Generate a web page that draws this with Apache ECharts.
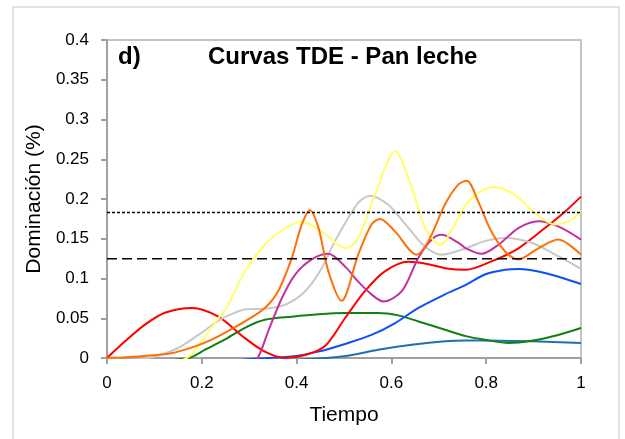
<!DOCTYPE html>
<html lang="es">
<head>
    <meta charset="UTF-8">
    <title>Curvas TDE - Pan leche</title>
    <script src="https://cdn.jsdelivr.net/npm/echarts@6/dist/echarts.min.js"></script>
    <style>
        body { margin: 0; padding: 0; background: #fff; }
        #chart { width: 625px; height: 439px; }
    </style>
</head>
<body>
    <div id="chart"></div>
    <script>
        // datos: [tiempo, dominacion]
        var rojo = [[0,0],[0.038,0.021],[0.08,0.042],[0.122,0.057],[0.179,0.063],[0.235,0.052],[0.291,0.025],[0.333,0.008],[0.375,0],[0.42,0.004],[0.46,0.015],[0.502,0.05],[0.544,0.084],[0.586,0.109],[0.636,0.121],[0.678,0.118],[0.713,0.113],[0.757,0.111],[0.811,0.1215],[0.868,0.138],[0.924,0.1635],[0.966,0.184],[1,0.203]];
        var naranja = [[0,0],[0.066,0.002],[0.136,0.006],[0.186,0.0146],[0.221,0.023],[0.253,0.033],[0.291,0.046],[0.333,0.063],[0.361,0.084],[0.39,0.126],[0.411,0.168],[0.428,0.186],[0.446,0.164],[0.467,0.109],[0.495,0.072],[0.53,0.13],[0.558,0.168],[0.576,0.175],[0.608,0.159],[0.653,0.13],[0.678,0.147],[0.713,0.193],[0.741,0.218],[0.759,0.223],[0.783,0.197],[0.811,0.159],[0.84,0.134],[0.868,0.124],[0.91,0.138],[0.952,0.149],[1,0.13]];
        var amarillo = [[0,0],[0.08,-0.012],[0.168,0],[0.207,0.027],[0.235,0.05],[0.253,0.064],[0.291,0.109],[0.333,0.1425],[0.376,0.1635],[0.411,0.171],[0.453,0.159],[0.504,0.138],[0.53,0.151],[0.565,0.205],[0.608,0.26],[0.643,0.214],[0.671,0.1635],[0.703,0.1425],[0.734,0.168],[0.757,0.193],[0.783,0.2075],[0.815,0.215],[0.861,0.205],[0.903,0.182],[0.945,0.168],[0.98,0.174],[1,0.185]];
        var gris = [[0,0],[0.05,-0.002],[0.101,0.002],[0.15,0.0126],[0.193,0.029],[0.228,0.044],[0.251,0.052],[0.291,0.061],[0.333,0.062],[0.376,0.067],[0.418,0.084],[0.453,0.113],[0.481,0.147],[0.53,0.195],[0.555,0.204],[0.593,0.193],[0.636,0.1635],[0.671,0.14],[0.706,0.13],[0.757,0.138],[0.797,0.147],[0.84,0.151],[0.896,0.145],[0.952,0.128],[1,0.112]];
        var magenta = [[0.26,-0.04],[0.316,-0.002],[0.34,0.0335],[0.369,0.0755],[0.397,0.105],[0.432,0.124],[0.467,0.131],[0.504,0.114],[0.53,0.096],[0.558,0.08],[0.583,0.071],[0.622,0.084],[0.657,0.126],[0.685,0.149],[0.706,0.155],[0.741,0.145],[0.757,0.138],[0.79,0.131],[0.826,0.1425],[0.868,0.1635],[0.91,0.172],[0.952,0.1655],[1,0.149]];
        var azul = [[0.22,-0.01],[0.291,-0.002],[0.39,0.002],[0.446,0.008],[0.504,0.018],[0.558,0.029],[0.608,0.044],[0.657,0.063],[0.713,0.08],[0.757,0.092],[0.797,0.105],[0.84,0.111],[0.868,0.112],[0.924,0.107],[1,0.093]];
        var verde = [[0,0],[0.08,-0.004],[0.172,0],[0.207,0.0105],[0.251,0.024],[0.291,0.038],[0.333,0.048],[0.39,0.052],[0.446,0.055],[0.504,0.0565],[0.572,0.0566],[0.614,0.0536],[0.657,0.046],[0.713,0.0356],[0.757,0.0275],[0.797,0.023],[0.847,0.019],[0.896,0.0218],[0.952,0.029],[1,0.0377]];
        var celeste = [[0,0],[0.1,-0.004],[0.2,-0.005],[0.3,-0.004],[0.411,-0.002],[0.504,0.0025],[0.572,0.0105],[0.643,0.0167],[0.713,0.021],[0.757,0.022],[0.826,0.0218],[0.896,0.021],[1,0.019]];

        // limites de significancia
        var limiteAzar = 0.125;
        var limiteSignif = 0.183;

        var curvas = [
            { datos: celeste, color: '#2070B0' },
            { datos: verde, color: '#118011' },
            { datos: azul, color: '#0A50F5' },
            { datos: rojo, color: '#FF0000' },
            { datos: gris, color: '#C8C8C8' },
            { datos: magenta, color: '#C3309F' },
            { datos: amarillo, color: '#FFFF66' },
            { datos: naranja, color: '#FF7008' }
        ];

        var chart = echarts.init(document.getElementById('chart'));

        var series = curvas.map(function (c) {
            return {
                type: 'line',
                data: c.datos,
                smooth: 0.3,
                showSymbol: false,
                clip: true,
                lineStyle: { color: c.color, width: 2 },
                silent: true
            };
        });

        series.push({
            type: 'line',
            data: [[0, limiteSignif], [1, limiteSignif]],
            showSymbol: false,
            lineStyle: { color: '#000', width: 1.5, type: [3, 2] },
            silent: true
        });
        series.push({
            type: 'line',
            data: [[0, limiteAzar], [1, limiteAzar]],
            showSymbol: false,
            lineStyle: { color: '#000', width: 1.5, type: [10, 5] },
            silent: true
        });

        var option = {
            animation: false,
            textStyle: { fontFamily: 'Liberation Sans, Arial, sans-serif' },
            graphic: [
                {
                    type: 'rect',
                    shape: { x: 13, y: 7, width: 606, height: 440 },
                    style: { fill: 'none', stroke: '#D9D9D9', lineWidth: 1.5 },
                    silent: true
                },
                {
                    type: 'text',
                    left: 118, top: 45,
                    style: { text: 'd)', font: 'bold 24px Liberation Sans, Arial', fill: '#000' }
                },
                {
                    type: 'text',
                    left: 208, top: 45,
                    style: { text: 'Curvas TDE - Pan leche', font: 'bold 24px Liberation Sans, Arial', fill: '#000' }
                }
            ],
            grid: {
                left: 107, right: 44, top: 40, bottom: 81,
                show: true,
                borderColor: '#C4C4C4',
                borderWidth: 2
            },
            xAxis: {
                type: 'value',
                min: 0, max: 1, interval: 0.2,
                name: 'Tiempo',
                nameLocation: 'middle',
                nameGap: 47,
                nameTextStyle: { fontSize: 21, color: '#000' },
                axisLine: { lineStyle: { color: '#A0A0A0', width: 2 } },
                axisTick: { show: true, inside: false, length: 6, lineStyle: { color: '#A0A0A0', width: 2 } },
                axisLabel: { fontSize: 17, color: '#000', margin: 17 },
                splitLine: { show: false }
            },
            yAxis: {
                type: 'value',
                min: 0, max: 0.4, interval: 0.05,
                name: 'Dominación (%)',
                nameLocation: 'middle',
                nameGap: 60,
                nameTextStyle: { fontSize: 21, color: '#000' },
                axisLine: { show: true, lineStyle: { color: '#A0A0A0', width: 2 } },
                axisTick: { show: true, inside: false, length: 6, lineStyle: { color: '#A0A0A0', width: 2 } },
                axisLabel: { fontSize: 17, color: '#000', margin: 18 },
                splitLine: { show: false }
            },
            series: series
        };

        chart.setOption(option);
    </script>
</body>
</html>
